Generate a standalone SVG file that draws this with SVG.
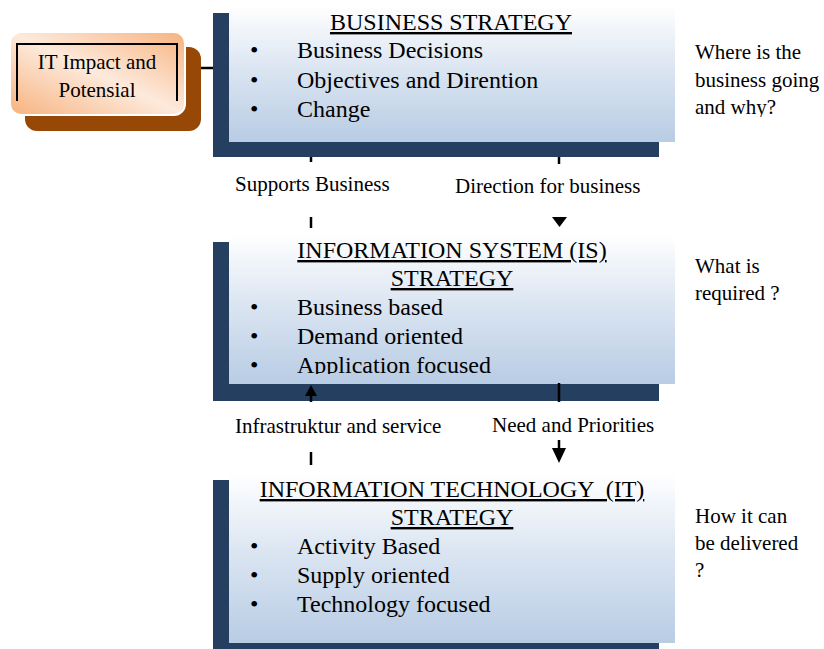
<svg xmlns="http://www.w3.org/2000/svg" width="824" height="649" viewBox="0 0 824 649">
<defs>
<linearGradient id="blue" x1="0" y1="0" x2="0" y2="1">
<stop offset="0" stop-color="#ffffff"/>
<stop offset="0.45" stop-color="#dce6f2"/>
<stop offset="1" stop-color="#b8cce4"/>
</linearGradient>
<linearGradient id="peach" x1="0" y1="1" x2="1" y2="0">
<stop offset="0" stop-color="#f7b27e"/>
<stop offset="0.5" stop-color="#fdeadc"/>
<stop offset="1" stop-color="#f7b27e"/>
</linearGradient>
<clipPath id="c1"><rect x="229" y="0" width="446" height="374"/></clipPath>
<clipPath id="c2"><rect x="0" y="0" width="824" height="433"/></clipPath>
<clipPath id="c3"><rect x="680" y="0" width="144" height="117"/></clipPath>
</defs>
<style>
.dark{fill:#243f60}
.light{fill:url(#blue)}
.t{font-family:"Liberation Serif","Times New Roman",serif;fill:#000}
.big{font-size:24px}
.sm{font-size:21px}
.hd{text-decoration:underline;white-space:pre}
.ln{stroke:#000;stroke-width:2.5;fill:none}
.ah{fill:#000}
</style>

<g id="it-impact">
<rect x="25" y="47" width="176" height="84" rx="12" fill="#984806"/>
<rect x="10" y="32" width="175" height="83" rx="11" fill="url(#peach)" stroke="#ffffff" stroke-width="2"/>
<path d="M17,101 V44 H177 V101" fill="none" stroke="#000" stroke-width="2"/>
<text class="t sm" x="97" y="69" text-anchor="middle">IT Impact and</text>
<text class="t sm" x="97" y="97" text-anchor="middle">Potensial</text>
</g>

<g id="business-strategy">
<rect class="dark" x="213" y="13" width="446" height="144"/>
<rect class="light" x="229" y="5" width="446" height="137"/>
<text class="t big hd" x="451" y="30" text-anchor="middle">BUSINESS STRATEGY</text>
<text class="t big" x="250" y="58">•</text><text class="t big" x="297" y="58">Business Decisions</text>
<text class="t big" x="250" y="88">•</text><text class="t big" x="297" y="88">Objectives and Dirention</text>
<text class="t big" x="250" y="117">•</text><text class="t big" x="297" y="117">Change</text>
</g>

<g id="is-strategy">
<rect class="dark" x="213" y="242" width="446" height="159"/>
<rect class="light" x="229" y="235" width="446" height="149"/>
<text class="t big hd" x="452" y="258" text-anchor="middle">INFORMATION SYSTEM (IS)</text>
<text class="t big hd" x="452" y="286" text-anchor="middle">STRATEGY</text>
<g clip-path="url(#c1)">
<text class="t big" x="250" y="315">•</text><text class="t big" x="297" y="315">Business based</text>
<text class="t big" x="250" y="344">•</text><text class="t big" x="297" y="344">Demand oriented</text>
<text class="t big" x="250" y="373">•</text><text class="t big" x="297" y="373">Application focused</text>
</g>
</g>

<g id="it-strategy">
<rect class="dark" x="213" y="480" width="446" height="169"/>
<rect class="light" x="229" y="473" width="446" height="170"/>
<text class="t big hd" x="452" y="497" text-anchor="middle">INFORMATION TECHNOLOGY  (IT)</text>
<text class="t big hd" x="452" y="525" text-anchor="middle">STRATEGY</text>
<text class="t big" x="250" y="554">•</text><text class="t big" x="297" y="554">Activity Based</text>
<text class="t big" x="250" y="583">•</text><text class="t big" x="297" y="583">Supply oriented</text>
<text class="t big" x="250" y="612">•</text><text class="t big" x="297" y="612">Technology focused</text>
</g>

<g id="questions">
<g clip-path="url(#c3)">
<text class="t sm" x="695" y="59">Where is the</text>
<text class="t sm" x="695" y="87">business going</text>
<text class="t sm" x="695" y="114">and why?</text>
</g>
<text class="t sm" x="695" y="273">What is</text>
<text class="t sm" x="695" y="300">required ?</text>
<text class="t sm" x="695" y="523">How it can</text>
<text class="t sm" x="695" y="550">be delivered</text>
<text class="t sm" x="695" y="577">?</text>
</g>

<g id="connectors">
<line class="ln" x1="201" y1="68" x2="213" y2="68"/>
<line class="ln" x1="311" y1="157" x2="311" y2="162"/>
<line class="ln" x1="311" y1="217" x2="311" y2="228"/>
<text class="t sm" x="235" y="191">Supports Business</text>
<line class="ln" x1="559" y1="157" x2="559" y2="164"/>
<polygon class="ah" points="552,217 567,217 559.5,227"/>
<text class="t sm" x="455" y="193">Direction for business</text>
<polygon class="ah" points="311,385 305,396 317,396"/>
<line class="ln" x1="311" y1="395" x2="311" y2="402"/>
<line class="ln" x1="311" y1="452" x2="311" y2="465"/>
<text class="t sm" x="235" y="433">Infrastruktur and service</text>
<line class="ln" x1="559" y1="383" x2="559" y2="402"/>
<line class="ln" x1="559" y1="440" x2="559" y2="449"/>
<polygon class="ah" points="552,448 566,448 559,463"/>
<g clip-path="url(#c2)"><text class="t sm" x="492" y="432">Need and Priorities</text></g>
</g>
</svg>
